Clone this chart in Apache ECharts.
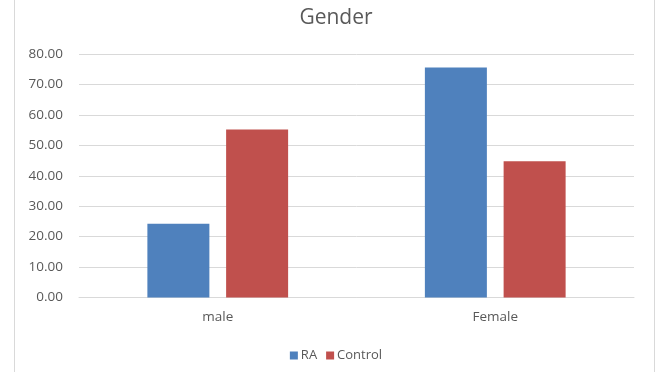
<!DOCTYPE html>
<html><head><meta charset="utf-8">
<script src="https://cdn.jsdelivr.net/npm/echarts@6/dist/echarts.min.js"></script>
<style>html,body{margin:0;padding:0;background:#fff}#c{width:672px;height:372px}</style>
</head><body><div id="c"></div>
<script>
const categories = ['male', 'Female'];
const raValues = [24.2, 75.6];
const controlValues = [55.2, 44.8];
const seriesNames = ['RA', 'Control'];

const chart = echarts.init(document.getElementById('c'), null, {renderer: 'canvas'});
const font = 'Open Sans, Liberation Sans, sans-serif';
chart.setOption({
  animation: false,
  backgroundColor: '#fff',
  title: {
    text: 'Gender', left: 'center', top: 3,
    textStyle: {fontFamily: font, fontSize: 21, fontWeight: 'normal', color: '#595959'}
  },
  legend: {
    data: seriesNames, bottom: 5, left: 'center',
    itemWidth: 8, itemHeight: 8, itemGap: 9, icon: 'rect',
    textStyle: {fontFamily: font, fontSize: 13, color: '#595959', padding: [0,0,0,-2]}
  },
  grid: {left: 79, right: 38, top: 54, bottom: 74.5},
  xAxis: {
    type: 'category', data: categories,
    axisLine: {lineStyle: {color: '#d9d9d9'}},
    axisTick: {show: false},
    axisLabel: {fontFamily: font, fontSize: 13.5, color: '#595959', margin: 13}
  },
  yAxis: {
    type: 'value', min: 0, max: 80, interval: 10,
    axisLine: {show: false}, axisTick: {show: false},
    splitLine: {lineStyle: {color: '#d9d9d9'}},
    axisLabel: {fontFamily: font, fontSize: 13.5, color: '#595959', margin: 16,
      formatter: v => v.toFixed(2)}
  },
  graphic: [
    {type: 'line', shape: {x1: 14.5, y1: 0, x2: 14.5, y2: 372}, style: {stroke: '#d9d9d9', lineWidth: 1}},
    {type: 'line', shape: {x1: 654.5, y1: 0, x2: 654.5, y2: 372}, style: {stroke: '#d9d9d9', lineWidth: 1}}
  ],
  series: [
    {name: seriesNames[0], type: 'bar', data: raValues, barWidth: 62, barGap: '27%',
     itemStyle: {color: '#4f81bd'}},
    {name: seriesNames[1], type: 'bar', data: controlValues, barWidth: 62,
     itemStyle: {color: '#c0504d'}}
  ]
});
</script></body></html>
